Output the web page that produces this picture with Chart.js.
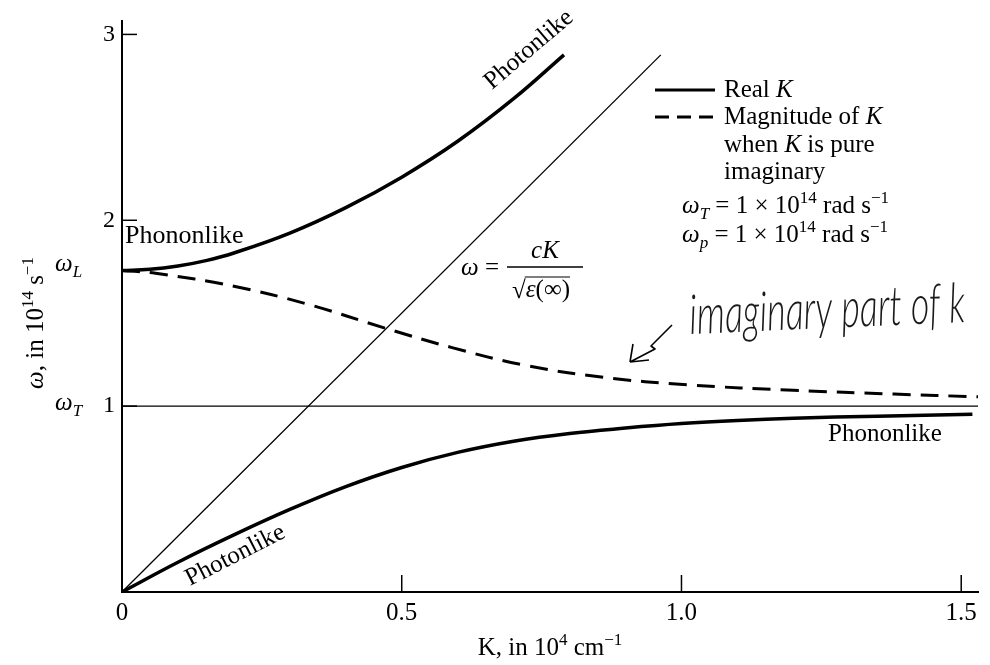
<!DOCTYPE html>
<html>
<head>
<meta charset="utf-8">
<script src="https://cdn.jsdelivr.net/npm/chart.js@4.4.1/dist/chart.umd.min.js"></script>
<style>
  html, body { margin: 0; padding: 0; background: #fff; }
</style>
</head>
<body>
<canvas id="myChart" width="990" height="665"></canvas>
<script>
// K in 10^4 cm^-1, omega in 10^14 s^-1
const upperK = [0, 0.05, 0.1, 0.15, 0.2, 0.3, 0.4, 0.5, 0.6, 0.7, 0.79];
const upperW = [1.73, 1.736, 1.754, 1.783, 1.824, 1.931, 2.068, 2.232, 2.425, 2.654, 2.89];

const lowerK = [0, 0.1, 0.2, 0.3, 0.4, 0.5, 0.6, 0.7, 0.8, 0.9, 1.0, 1.1, 1.2, 1.35, 1.52];
const lowerW = [0, 0.16, 0.307, 0.444, 0.567, 0.67, 0.751, 0.811, 0.853, 0.882, 0.906, 0.923, 0.935, 0.946, 0.956];

const imagK = [0, 0.06, 0.2, 0.33, 0.47, 0.59, 0.72, 0.86, 1.01, 1.2, 1.38, 1.53];
const imagW = [1.73, 1.715, 1.645, 1.55, 1.42, 1.315, 1.22, 1.155, 1.115, 1.085, 1.065, 1.05];

const lightK = [0, 0.963];
const lightW = [0, 2.89];

const omegaTK = [0, 1.53];
const omegaTW = [1, 1];

const xTicks = [0, 0.5, 1.0, 1.5];
const xTickLabels = ['0', '0.5', '1.0', '1.5'];
const yTicks = [1, 2, 3];
const yTickLabels = ['1', '2', '3'];

const FONT = '"Liberation Serif", "DejaVu Serif", serif';
const HAND = '300 italic 48px Lato, Roboto, "Liberation Sans", sans-serif';
Chart.defaults.font.family = FONT;
Chart.defaults.color = '#000';

const pts = (ks, ws) => ks.map((k, i) => ({ x: k, y: ws[i] }));

// draws text with italic / superscript / subscript pieces
function rich(ctx, parts, x, y, size, align) {
  const fontFor = (st) => {
    const small = st.includes('sup') || st.includes('sub');
    const s = small ? Math.round(size * 0.68) : size;
    return (st.startsWith('i') ? 'italic ' : '') + s + 'px ' + FONT;
  };
  let w = 0;
  parts.forEach(([t, st = '']) => { ctx.font = fontFor(st); w += ctx.measureText(t).width; });
  let cx = align === 'center' ? x - w / 2 : align === 'right' ? x - w : x;
  ctx.textAlign = 'left';
  ctx.textBaseline = 'alphabetic';
  parts.forEach(([t, st = '']) => {
    ctx.font = fontFor(st);
    const dy = st.includes('sup') ? -size * 0.4 : st.includes('sub') ? size * 0.22 : 0;
    ctx.fillText(t, cx, y + dy);
    cx += ctx.measureText(t).width;
  });
  return w;
}

const extras = {
  id: 'extras',
  afterDraw(chart) {
    const { ctx, scales: { x, y } } = chart;
    const x0 = x.getPixelForValue(0), y0 = y.getPixelForValue(0);
    ctx.save();
    ctx.fillStyle = '#000';
    ctx.strokeStyle = '#000';

    // inward tick marks
    ctx.lineWidth = 1.5;
    xTicks.slice(1).forEach(v => {
      const px = x.getPixelForValue(v);
      ctx.beginPath(); ctx.moveTo(px, y0); ctx.lineTo(px, y0 - 17); ctx.stroke();
    });
    yTicks.forEach(v => {
      const py = y.getPixelForValue(v);
      ctx.beginPath(); ctx.moveTo(x0, py); ctx.lineTo(x0 + 15, py); ctx.stroke();
    });

    // omega_L / omega_T marks on the left
    rich(ctx, [['ω', 'i'], ['L', 'isub']], 55, y.getPixelForValue(upperW[0]) + 1, 25);
    rich(ctx, [['ω', 'i'], ['T', 'isub']], 55, y.getPixelForValue(1) + 4, 25);

    // axis titles
    rich(ctx, [['K, in 10'], ['4', 'sup'], [' cm'], ['−1', 'sup']], (x.left + x.right) / 2, 655, 25, 'center');
    ctx.save();
    ctx.translate(43, 323);
    ctx.rotate(-Math.PI / 2);
    rich(ctx, [['ω', 'i'], [', in 10'], ['14', 'sup'], [' s'], ['−1', 'sup']], 0, 0, 25, 'center');
    ctx.restore();

    // curve labels
    rich(ctx, [['Phononlike']], 125, 243, 26);
    rich(ctx, [['Phononlike']], 828, 441, 25);
    ctx.save();
    ctx.translate(492, 90);
    ctx.rotate(-40.5 * Math.PI / 180);
    rich(ctx, [['Photonlike']], 0, 0, 25);
    ctx.restore();
    ctx.save();
    ctx.translate(190, 586);
    ctx.rotate(-27 * Math.PI / 180);
    rich(ctx, [['Photonlike']], 0, 0, 25);
    ctx.restore();

    // light line label  omega = cK / sqrt(eps(inf))
    rich(ctx, [['ω', 'i'], [' =']], 461, 275, 25);
    rich(ctx, [['cK', 'i']], 545, 258, 25, 'center');
    ctx.lineWidth = 1.5;
    ctx.beginPath(); ctx.moveTo(507, 267); ctx.lineTo(583, 267); ctx.stroke();
    const sw = rich(ctx, [['√']], 512, 298, 25);
    const ew = rich(ctx, [['ε', 'i'], ['(∞)']], 512 + sw, 297, 25);
    ctx.lineWidth = 1.2;
    ctx.beginPath(); ctx.moveTo(512 + sw - 1, 277); ctx.lineTo(512 + sw + ew, 277); ctx.stroke();

    // legend
    ctx.lineWidth = 3;
    ctx.beginPath(); ctx.moveTo(655, 90); ctx.lineTo(715, 90); ctx.stroke();
    ctx.setLineDash([14, 8]);
    ctx.beginPath(); ctx.moveTo(655, 117); ctx.lineTo(715, 117); ctx.stroke();
    ctx.setLineDash([]);
    rich(ctx, [['Real '], ['K', 'i']], 724, 97, 25);
    rich(ctx, [['Magnitude of '], ['K', 'i']], 724, 124, 25);
    rich(ctx, [['when '], ['K', 'i'], [' is pure']], 724, 152, 25);
    rich(ctx, [['imaginary']], 724, 179, 25);
    rich(ctx, [['ω', 'i'], ['T', 'isub'], [' = 1 × 10'], ['14', 'sup'], [' rad s'], ['−1', 'sup']], 682, 213, 25);
    rich(ctx, [['ω', 'i'], ['p', 'isub'], [' = 1 × 10'], ['14', 'sup'], [' rad s'], ['−1', 'sup']], 682, 242, 25);

    // handwritten note with arrow
    ctx.save();
    ctx.font = HAND;
    const note = 'imaginary part of k';
    const nw = ctx.measureText(note).width;
    ctx.translate(690, 334);
    ctx.rotate(-2.5 * Math.PI / 180);
    ctx.scale(276 / nw, 1.15);
    ctx.fillStyle = '#1a1a1a';
    ctx.textAlign = 'left';
    ctx.textBaseline = 'alphabetic';
    ctx.fillText(note, 0, 0);
    ctx.restore();
    ctx.lineWidth = 1.6;
    ctx.lineJoin = 'round';
    ctx.beginPath();
    ctx.moveTo(672, 325); ctx.lineTo(651, 346); ctx.lineTo(655, 349); ctx.lineTo(630, 362);
    ctx.moveTo(630, 362); ctx.lineTo(633, 344);
    ctx.moveTo(630, 362); ctx.lineTo(649, 360);
    ctx.stroke();

    ctx.restore();
  }
};

const line = (data, width, extra) => Object.assign({
  data, borderColor: '#000', borderWidth: width, pointRadius: 0,
  tension: 0.4, fill: false
}, extra);

new Chart(document.getElementById('myChart'), {
  type: 'line',
  data: {
    datasets: [
      line(pts(upperK, upperW), 3.5, { label: 'Real K (upper)' }),
      line(pts(lowerK, lowerW), 3.5, { label: 'Real K (lower)' }),
      line(pts(imagK, imagW), 3, { label: '|K|, K imaginary', borderDash: [18, 10] }),
      line(pts(lightK, lightW), 1.3, { label: 'light line', tension: 0 }),
      line(pts(omegaTK, omegaTW), 1.3, { label: 'omega T', tension: 0 })
    ]
  },
  options: {
    responsive: false,
    animation: false,
    layout: { padding: { top: 15, right: 12, left: 0, bottom: 0 } },
    plugins: { legend: { display: false }, tooltip: { enabled: false } },
    scales: {
      x: {
        type: 'linear',
        min: 0,
        max: 1.53,
        afterBuildTicks: s => { s.ticks = xTicks.map(v => ({ value: v })); },
        afterFit: s => { s.height = 73; },
        ticks: {
          callback: (v, i) => xTickLabels[i],
          font: { size: 25 },
          padding: 6,
          maxRotation: 0
        },
        grid: { display: false, drawTicks: false },
        border: { display: true, color: '#000', width: 2 }
      },
      y: {
        type: 'linear',
        min: 0,
        max: 3.07,
        afterBuildTicks: s => { s.ticks = yTicks.map(v => ({ value: v })); },
        afterFit: s => { s.width = 122; },
        ticks: {
          callback: (v, i) => yTickLabels[i],
          font: { size: 24 },
          padding: 7
        },
        grid: { display: false, drawTicks: false },
        border: { display: true, color: '#000', width: 2 }
      }
    }
  },
  plugins: [extras]
});
</script>
</body>
</html>
